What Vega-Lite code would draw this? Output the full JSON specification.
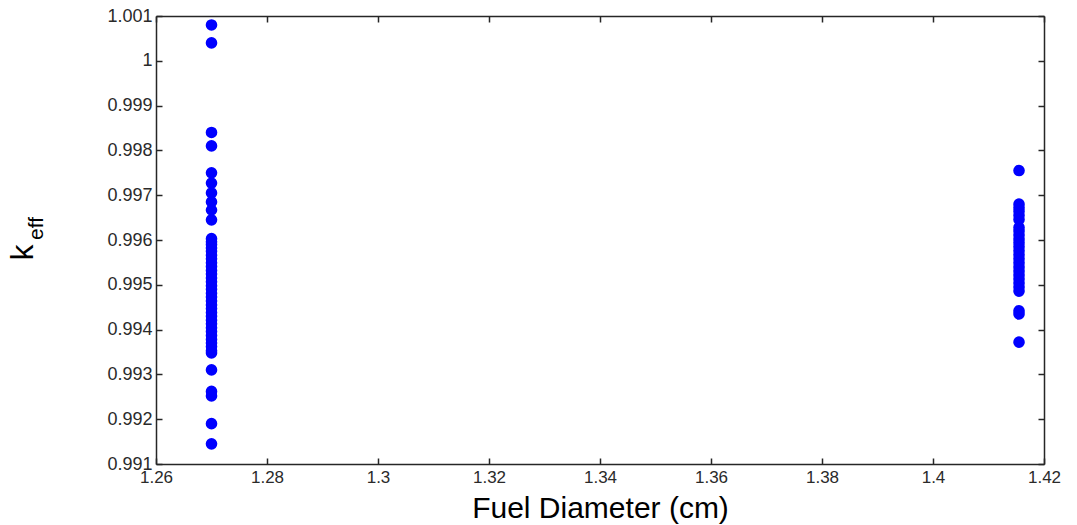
{
  "$schema": "https://vega.github.io/schema/vega-lite/v6.json",
  "width": 888,
  "height": 448,
  "autosize": {"type": "none"},
  "padding": {"left": 156, "top": 16, "right": 33, "bottom": 61},
  "background": "white",
  "config": {
    "view": {"stroke": null},
    "axis": {
      "grid": false,
      "labelFont": "Liberation Sans",
      "titleFont": "Liberation Sans",
      "labelColor": "#2a2a2a",
      "titleColor": "#000000",
      "titleFontWeight": "normal",
      "domainColor": "#262626",
      "tickColor": "#262626",
      "domainWidth": 1.5,
      "tickWidth": 1.5
    }
  },
  "data": {
    "values": [
      {"d": 1.27, "k": 1.0008},
      {"d": 1.27, "k": 1.0004},
      {"d": 1.27, "k": 0.9984},
      {"d": 1.27, "k": 0.9981},
      {"d": 1.27, "k": 0.9975},
      {"d": 1.27, "k": 0.99727},
      {"d": 1.27, "k": 0.99705},
      {"d": 1.27, "k": 0.99685},
      {"d": 1.27, "k": 0.99667},
      {"d": 1.27, "k": 0.99645},
      {"d": 1.27, "k": 0.99603},
      {"d": 1.27, "k": 0.99596},
      {"d": 1.27, "k": 0.9959},
      {"d": 1.27, "k": 0.99582},
      {"d": 1.27, "k": 0.99575},
      {"d": 1.27, "k": 0.99566},
      {"d": 1.27, "k": 0.99558},
      {"d": 1.27, "k": 0.99549},
      {"d": 1.27, "k": 0.99541},
      {"d": 1.27, "k": 0.99532},
      {"d": 1.27, "k": 0.99524},
      {"d": 1.27, "k": 0.99515},
      {"d": 1.27, "k": 0.99507},
      {"d": 1.27, "k": 0.99498},
      {"d": 1.27, "k": 0.9949},
      {"d": 1.27, "k": 0.99481},
      {"d": 1.27, "k": 0.99473},
      {"d": 1.27, "k": 0.99464},
      {"d": 1.27, "k": 0.99455},
      {"d": 1.27, "k": 0.99447},
      {"d": 1.27, "k": 0.99438},
      {"d": 1.27, "k": 0.9943},
      {"d": 1.27, "k": 0.99421},
      {"d": 1.27, "k": 0.99413},
      {"d": 1.27, "k": 0.99404},
      {"d": 1.27, "k": 0.99396},
      {"d": 1.27, "k": 0.99387},
      {"d": 1.27, "k": 0.99378},
      {"d": 1.27, "k": 0.9937},
      {"d": 1.27, "k": 0.99362},
      {"d": 1.27, "k": 0.99353},
      {"d": 1.27, "k": 0.99348},
      {"d": 1.27, "k": 0.9931},
      {"d": 1.27, "k": 0.99262},
      {"d": 1.27, "k": 0.99252},
      {"d": 1.27, "k": 0.9919},
      {"d": 1.27, "k": 0.99145},
      {"d": 1.4155, "k": 0.99755},
      {"d": 1.4155, "k": 0.9968},
      {"d": 1.4155, "k": 0.99672},
      {"d": 1.4155, "k": 0.99664},
      {"d": 1.4155, "k": 0.99655},
      {"d": 1.4155, "k": 0.99646},
      {"d": 1.4155, "k": 0.99628},
      {"d": 1.4155, "k": 0.9962},
      {"d": 1.4155, "k": 0.99611},
      {"d": 1.4155, "k": 0.99602},
      {"d": 1.4155, "k": 0.99594},
      {"d": 1.4155, "k": 0.99585},
      {"d": 1.4155, "k": 0.99576},
      {"d": 1.4155, "k": 0.99567},
      {"d": 1.4155, "k": 0.99558},
      {"d": 1.4155, "k": 0.99549},
      {"d": 1.4155, "k": 0.9954},
      {"d": 1.4155, "k": 0.99531},
      {"d": 1.4155, "k": 0.99522},
      {"d": 1.4155, "k": 0.99513},
      {"d": 1.4155, "k": 0.99504},
      {"d": 1.4155, "k": 0.99495},
      {"d": 1.4155, "k": 0.99486},
      {"d": 1.4155, "k": 0.99442},
      {"d": 1.4155, "k": 0.99435},
      {"d": 1.4155, "k": 0.99372}
    ]
  },
  "layer": [
    {
      "mark": {"type": "point", "filled": true, "size": 135, "color": "#0000ff", "opacity": 1, "strokeWidth": 0},
      "encoding": {
        "x": {
          "field": "d", "type": "quantitative",
          "scale": {"domain": [1.26, 1.42], "nice": false, "zero": false},
          "axis": {
            "orient": "bottom",
            "values": [1.26, 1.28, 1.3, 1.32, 1.34, 1.36, 1.38, 1.4, 1.42],
            "labelExpr": "toString(round(datum.value * 100) / 100)",
            "labelFontSize": 17,
            "labelPadding": 11,
            "tickSize": -6,
            "labelBaseline": "top",
            "labelFlush": false,
            "labelOverlap": false,
            "title": "Fuel Diameter (cm)",
            "titleFontSize": 30,
            "titleBaseline": "alphabetic",
            "titleY": 53
          }
        },
        "y": {
          "field": "k", "type": "quantitative",
          "scale": {"domain": [0.991, 1.001], "nice": false, "zero": false},
          "axis": {
            "orient": "left",
            "values": [0.991, 0.992, 0.993, 0.994, 0.995, 0.996, 0.997, 0.998, 0.999, 1, 1.001],
            "labelExpr": "toString(round(datum.value * 1000) / 1000)",
            "labelFontSize": 18,
            "labelPadding": 10,
            "tickSize": -6,
            "labelFlush": false,
            "labelOverlap": false,
            "title": "k",
            "titleFontSize": 32,
            "titleAngle": 270,
            "titleAlign": "center",
            "titleBaseline": "alphabetic",
            "titleX": -124,
            "titleY": 236
          }
        }
      }
    },
    {
      "mark": {"type": "point", "opacity": 0},
      "encoding": {
        "x": {
          "field": "d", "type": "quantitative",
          "axis": {
            "orient": "top",
            "values": [1.26, 1.28, 1.3, 1.32, 1.34, 1.36, 1.38, 1.4, 1.42],
            "labels": false,
            "tickSize": -6,
            "title": null
          }
        },
        "y": {
          "field": "k", "type": "quantitative",
          "axis": {
            "orient": "right",
            "values": [0.991, 0.992, 0.993, 0.994, 0.995, 0.996, 0.997, 0.998, 0.999, 1, 1.001],
            "labels": false,
            "tickSize": -6,
            "title": "eff",
            "titleFontSize": 21,
            "titleAngle": 270,
            "titleAlign": "center",
            "titleBaseline": "alphabetic",
            "titleX": -1002,
            "titleY": 212
          }
        }
      }
    }
  ],
  "resolve": {"axis": {"x": "independent", "y": "independent"}}
}
